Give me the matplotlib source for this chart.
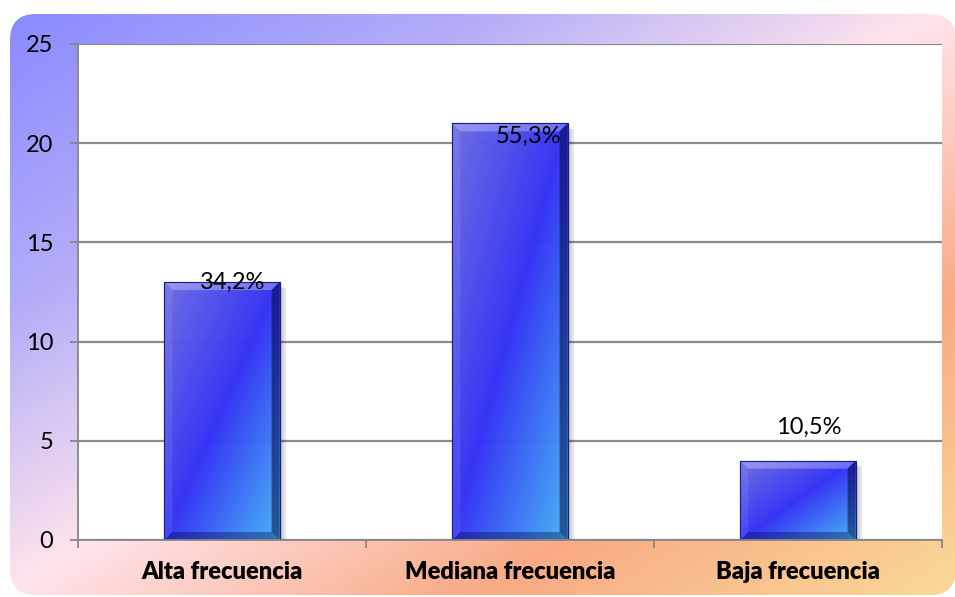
import matplotlib
matplotlib.use("Agg")
import matplotlib.pyplot as plt
import numpy as np
from matplotlib.colors import LinearSegmentedColormap
from matplotlib.patches import FancyBboxPatch, Polygon, Rectangle

# Datos
categorias = ["Alta frecuencia", "Mediana frecuencia", "Baja frecuencia"]
frecuencia = [13, 21, 4]
porcentajes = ["34,2%", "55,3%", "10,5%"]

# desplazamiento de cada etiqueta respecto al tope de la barra (px)
label_offsets = [(11, 0), (18, -13), (11, 33)]

W, H = 955, 597
fig = plt.figure(figsize=(W / 100, H / 100), dpi=100)
fig.patch.set_facecolor("white")

# Fondo redondeado con degradado diagonal
bg = fig.add_axes([0, 0, 1, 1], zorder=-1)
bg.set_xlim(0, W)
bg.set_ylim(H, 0)
bg.axis("off")
bg_cmap = LinearSegmentedColormap.from_list(
    "fondo",
    [(0.0, "#8888ff"), (0.27, "#b4aef8"), (0.5, "#ffe4ec"),
     (0.75, "#f8aa84"), (1.0, "#fad898")])
gx, gy = np.meshgrid(np.linspace(0, 1, 400), np.linspace(0, 1, 250))
img = bg.imshow((gx + gy) / 2, cmap=bg_cmap, extent=(0, W, H, 0),
                aspect="auto", vmin=0, vmax=1)
marco = FancyBboxPatch((10, 14), 946, 581,
                       boxstyle="round,pad=0,rounding_size=26",
                       facecolor="none", edgecolor="none")
bg.add_patch(marco)
img.set_clip_path(marco)

# Área de trazado
left, right, top, bottom = 78, 942, 44, 540
ax = fig.add_axes([left / W, 1 - bottom / H, (right - left) / W, (bottom - top) / H])
ax.set_facecolor("white")

x = np.arange(len(categorias))
ancho = 0.4
ax.set_xlim(-0.5, 2.5)
ax.set_ylim(0, 25)

# escala pixel -> datos
px_x = 3 / (right - left)
px_y = 25 / (bottom - top)

ax.set_yticks(np.arange(0, 26, 5))
ax.yaxis.grid(True, color="#8a8a8a", linewidth=1.6, zorder=0)
ax.set_axisbelow(True)

# sombras
for i, v in enumerate(frecuencia):
    x0 = x[i] - ancho / 2
    for k in range(1, 8):
        ax.add_patch(Rectangle((x0 + k * px_x, -k * 0.3 * px_y),
                               ancho, v - 4 * px_y, facecolor="#000000",
                               alpha=0.035, edgecolor="none", zorder=1.5))

bars = ax.bar(x, frecuencia, width=ancho, color="#3535f0", alpha=0.85,
              edgecolor="#1a1aa0", linewidth=0.8, zorder=2)

bar_cmap = LinearSegmentedColormap.from_list(
    "barra", [(0.0, "#7474e2"), (0.5, "#3434f6"), (1.0, "#4ac4f8")])
bx, by = 8 * px_x, 8 * px_y
for bar in bars:
    x0, y0 = bar.get_x(), bar.get_y()
    x1, y1 = x0 + bar.get_width(), y0 + bar.get_height()
    u, w = np.meshgrid(np.linspace(0, 1, 60), np.linspace(0, 1, 120))
    # fila 0 arriba: claro arriba-izquierda, cian abajo-derecha
    im = ax.imshow((u + w) / 2, cmap=bar_cmap, extent=(x0, x1, y0, y1),
                   origin="upper", aspect="auto", alpha=0.88, zorder=2.1,
                   vmin=0, vmax=1)
    im.set_clip_path(bar)
    # biseles
    ax.add_patch(Polygon([(x0, y1), (x1, y1), (x1 - bx, y1 - by), (x0 + bx, y1 - by)],
                         facecolor="white", alpha=0.28, edgecolor="none", zorder=2.2))
    ax.add_patch(Polygon([(x0, y1), (x0 + bx, y1 - by), (x0 + bx, y0 + by), (x0, y0)],
                         facecolor="white", alpha=0.08, edgecolor="none", zorder=2.2))
    ax.add_patch(Polygon([(x1, y1), (x1, y0), (x1 - bx, y0 + by), (x1 - bx, y1 - by)],
                         facecolor="#000030", alpha=0.5, edgecolor="none", zorder=2.2))
    ax.add_patch(Polygon([(x0, y0), (x1, y0), (x1 - bx, y0 + by), (x0 + bx, y0 + by)],
                         facecolor="#000040", alpha=0.35, edgecolor="none", zorder=2.2))
    ax.add_patch(Rectangle((x0, y0), x1 - x0, y1 - y0, facecolor="none",
                           edgecolor="#1a1a90", linewidth=0.8, zorder=2.3))

ax.set_xlim(-0.5, 2.5)
ax.set_ylim(0, 25)

# etiquetas de porcentaje
for i, (v, txt) in enumerate(zip(frecuencia, porcentajes)):
    dx, dy = label_offsets[i]
    ax.annotate(txt, (x[i], v), xytext=(dx * 0.72, dy * 0.72),
                textcoords="offset points", ha="center", va="center",
                fontsize=17, family="Lato", color="black", zorder=5)

# ejes
for s in ["top", "right"]:
    ax.spines[s].set_visible(False)
for s in ["left", "bottom"]:
    ax.spines[s].set_color("#868686")
    ax.spines[s].set_linewidth(1.3)
ax.tick_params(axis="y", length=5.8, width=1.3, color="#868686", pad=12,
               labelsize=17)
for lab in ax.get_yticklabels():
    lab.set_family("Lato")

ax.set_xticks(x)
ax.set_xticklabels(categorias, fontsize=17, fontweight="heavy", family="Lato")
ax.set_xticks([-0.5, 0.5, 1.5, 2.5], minor=True)
ax.tick_params(axis="x", which="major", length=0, pad=15)
ax.tick_params(axis="x", which="minor", length=5.8, width=1.3, color="#868686")

fig.savefig("out.png", dpi=100, facecolor=fig.get_facecolor())
